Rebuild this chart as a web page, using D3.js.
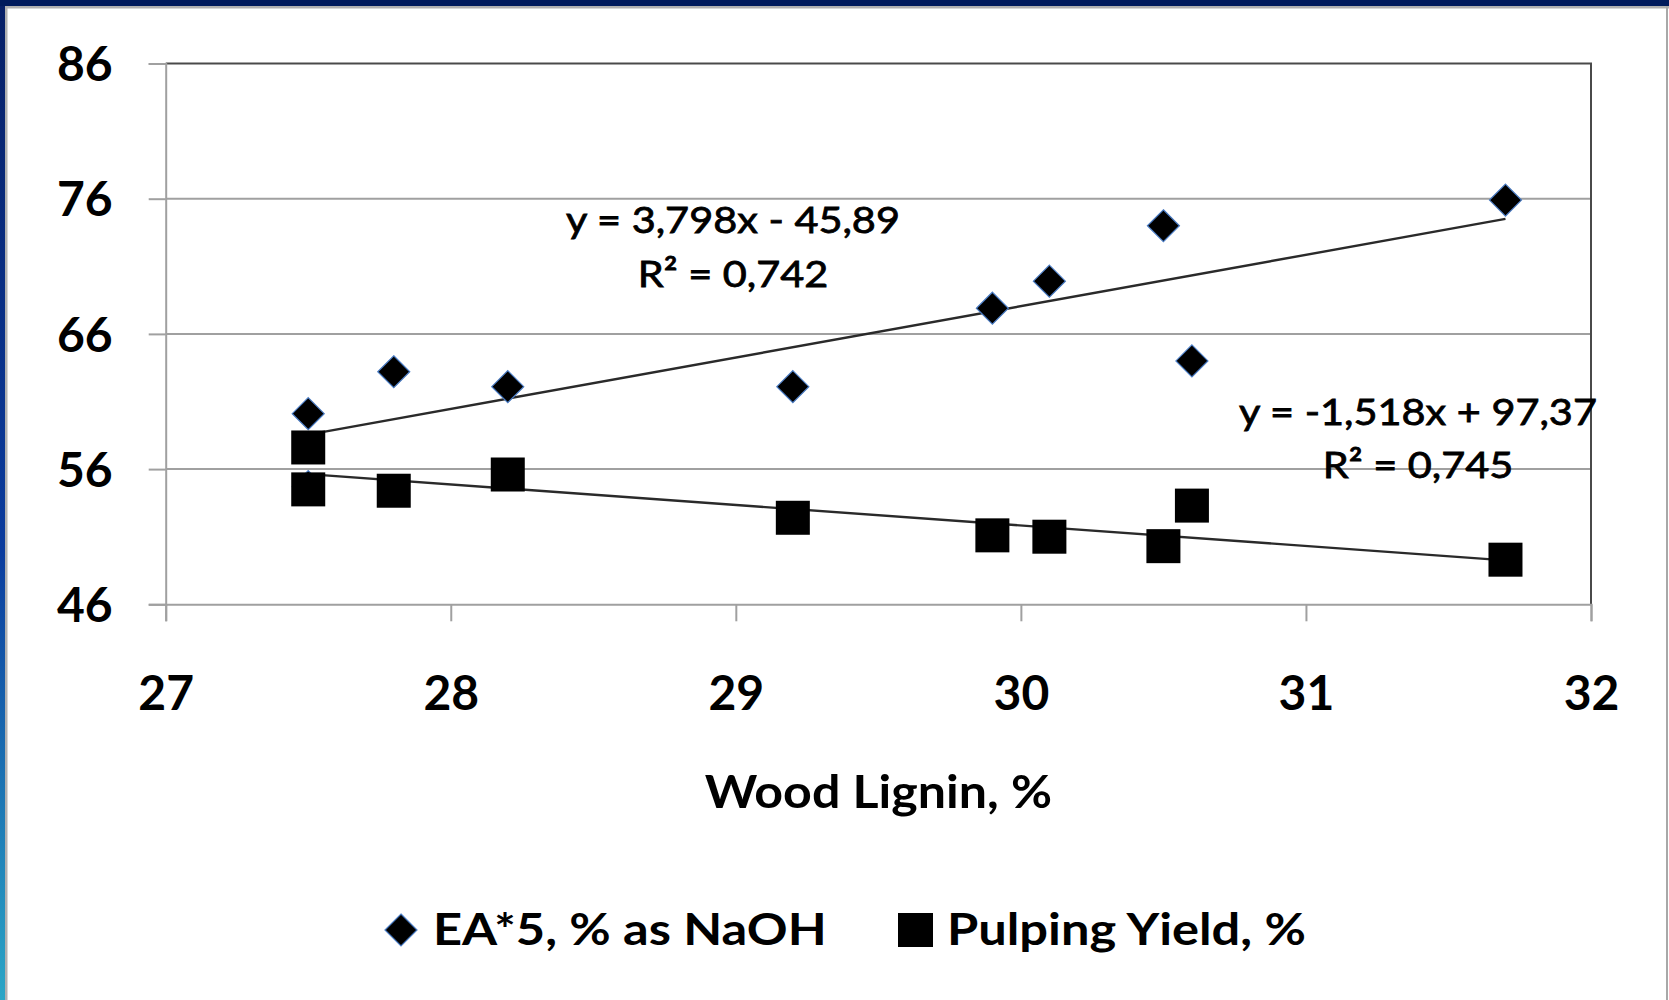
<!DOCTYPE html>
<html><head><meta charset="utf-8">
<script src="https://cdn.jsdelivr.net/npm/d3@7"></script>
<style>html,body{margin:0;padding:0;background:#fff;overflow:hidden}</style>
</head><body><svg id="chart" width="1669" height="1000"></svg>
<script>
// Wood lignin content vs. effective alkali charge and pulping yield
const ligninEA = [27.5, 27.5, 27.8, 28.2, 29.2, 29.9, 30.1, 30.5, 30.6, 31.7];
const eaValues = [60.1, 54.7, 63.2, 62.1, 62.1, 67.9, 69.9, 74.0, 64.0, 75.9];
const ligninYield = [27.5, 27.5, 27.8, 28.2, 29.2, 29.9, 30.1, 30.5, 30.6, 31.7];
const yieldValues = [57.6, 54.5, 54.4, 55.6, 52.4, 51.1, 51.0, 50.3, 53.3, 49.3];
const xTicks = [27, 28, 29, 30, 31, 32];
const yTicks = [46, 56, 66, 76, 86];
const eaTrend = { slope: 3.798, intercept: -45.89, r2: 0.742 };
const yieldTrend = { slope: -1.518, intercept: 97.37, r2: 0.745 };
const seriesNames = ["EA*5, % as NaOH", "Pulping Yield, %"];
const xTitle = "Wood Lignin, %";

const W = 1669, H = 1000;
const svg = d3.select("#chart");
const FONT = "Lato, 'Open Sans', sans-serif";

// slide frame
const defs = svg.append("defs");
const grad = defs.append("linearGradient").attr("id", "edge").attr("x1", 0).attr("y1", 0).attr("x2", 0).attr("y2", 1);
grad.append("stop").attr("offset", "0").attr("stop-color", "#071f66");
grad.append("stop").attr("offset", "0.55").attr("stop-color", "#0b3c9e");
grad.append("stop").attr("offset", "1").attr("stop-color", "#2ba6c6");
svg.append("rect").attr("x", 0).attr("y", 0).attr("width", W).attr("height", H).attr("fill", "#fff");
svg.append("rect").attr("x", 5).attr("y", 6).attr("width", 2.5).attr("height", H).attr("fill", "#b0b0b0");
svg.append("rect").attr("x", 0).attr("y", 6).attr("width", W).attr("height", 2.5).attr("fill", "#b0b0b0");
svg.append("rect").attr("x", W - 3).attr("y", 6).attr("width", 2).attr("height", H).attr("fill", "#a8a8a8");
svg.append("rect").attr("x", 0).attr("y", 0).attr("width", 5).attr("height", H).attr("fill", "url(#edge)");
svg.append("rect").attr("x", 0).attr("y", 0).attr("width", W).attr("height", 6).attr("fill", "#001a5c");

const x = d3.scaleLinear().domain([27, 32]).range([165.7, 1591]);
const y = d3.scaleLinear().domain([46, 86]).range([604.3, 63.5]);

const g = svg.append("g");

// gridlines
g.selectAll("line.grid").data(yTicks.slice(1, -1)).join("line")
  .attr("class", "grid")
  .attr("x1", x(27)).attr("x2", x(32))
  .attr("y1", d => y(d)).attr("y2", d => y(d))
  .attr("stroke", "#a0a0a0").attr("stroke-width", 2);

// plot border (top and right)
g.append("path")
  .attr("d", `M${x(27)},${y(86)}H${x(32)}V${y(46)}`)
  .attr("fill", "none").attr("stroke", "#4a4a4a").attr("stroke-width", 2);

// axes
const yAxis = g.append("g").attr("transform", `translate(${x(27)},0)`)
  .call(d3.axisLeft(y).tickValues(yTicks).tickSize(17).tickPadding(36).tickFormat(d3.format("d")));
const xAxis = g.append("g").attr("transform", `translate(0,${y(46)})`)
  .call(d3.axisBottom(x).tickValues(xTicks).tickSize(17).tickPadding(54).tickFormat(d3.format("d")));
[yAxis, xAxis].forEach(a => {
  a.select(".domain").attr("stroke", "#a0a0a0").attr("stroke-width", 2);
  a.selectAll(".tick line").attr("stroke", "#a0a0a0").attr("stroke-width", 2);
  a.selectAll(".tick text").attr("fill", "#000").style("font-family", FONT)
    .style("font-weight", 700).style("font-size", "48px");
});
yAxis.selectAll(".tick text").attr("dy", "0.36em");
xAxis.selectAll(".tick text").attr("dy", "0.72em");

// horizontally widened text helper
function wideText(parent, tx, ty, sx, str, anchor) {
  return parent.append("text")
    .attr("transform", `translate(${tx},${ty}) scale(${sx},1)`)
    .attr("text-anchor", anchor || "start").text(str);
}

// axis title
const titleG = svg.append("g").style("font-family", FONT).style("font-weight", 700)
  .style("font-size", "46px").attr("fill", "#000");
wideText(titleG, (x(27) + x(32)) / 2, 808, 1.09, xTitle, "middle");

// trendlines
const trendRange = [d3.min(ligninEA), d3.max(ligninEA)];
[eaTrend, yieldTrend].forEach(t => {
  g.append("line")
    .attr("x1", x(trendRange[0])).attr("y1", y(t.slope * trendRange[0] + t.intercept))
    .attr("x2", x(trendRange[1])).attr("y2", y(t.slope * trendRange[1] + t.intercept))
    .attr("stroke", "#2a2a2a").attr("stroke-width", 2.4);
});

const diamond = s => `M0,${-s}L${s},0L0,${s}L${-s},0Z`;

// EA series (diamonds)
g.selectAll("path.ea").data(eaValues).join("path")
  .attr("class", "ea")
  .attr("transform", (d, i) => `translate(${x(ligninEA[i])},${y(d)})`)
  .attr("d", diamond(16))
  .attr("fill", "#000").attr("stroke", "#4a7cc4").attr("stroke-width", 1.2);

// Pulping yield series (squares)
g.selectAll("rect.yield").data(yieldValues).join("rect")
  .attr("class", "yield")
  .attr("x", (d, i) => x(ligninYield[i]) - 17).attr("y", d => y(d) - 17)
  .attr("width", 34).attr("height", 34)
  .attr("fill", "#000");

// trendline equations
const dec = v => String(v).replace(".", ",");
const eqText = t => `y = ${dec(t.slope)}x ${t.intercept < 0 ? "-" : "+"} ${dec(Math.abs(t.intercept))}`;
const eqLabels = [
  { t: eaTrend, cx: 733, y1: 233, y2: 287 },
  { t: yieldTrend, cx: 1418, y1: 425, y2: 478 }
];
eqLabels.forEach(l => {
  const lab = svg.append("g").style("font-family", FONT).style("font-size", "37px")
    .style("font-weight", 400).attr("fill", "#000")
    .attr("stroke", "#000").attr("stroke-width", 0.8);
  wideText(lab, l.cx, l.y1, 1.12, eqText(l.t), "middle");
  wideText(lab, l.cx, l.y2, 1.12, `R² = ${dec(l.t.r2)}`, "middle");
});

// legend
const legend = svg.append("g").style("font-family", FONT).style("font-weight", 700).style("font-size", "44px");
legend.append("path").attr("transform", "translate(401,930)").attr("d", diamond(16))
  .attr("fill", "#000").attr("stroke", "#4a7cc4").attr("stroke-width", 1.2);
wideText(legend, 433, 945, 1.15, seriesNames[0]);
legend.append("rect").attr("x", 898).attr("y", 913).attr("width", 35).attr("height", 34).attr("fill", "#000");
wideText(legend, 947, 945, 1.15, seriesNames[1]);
</script>
</body></html>
